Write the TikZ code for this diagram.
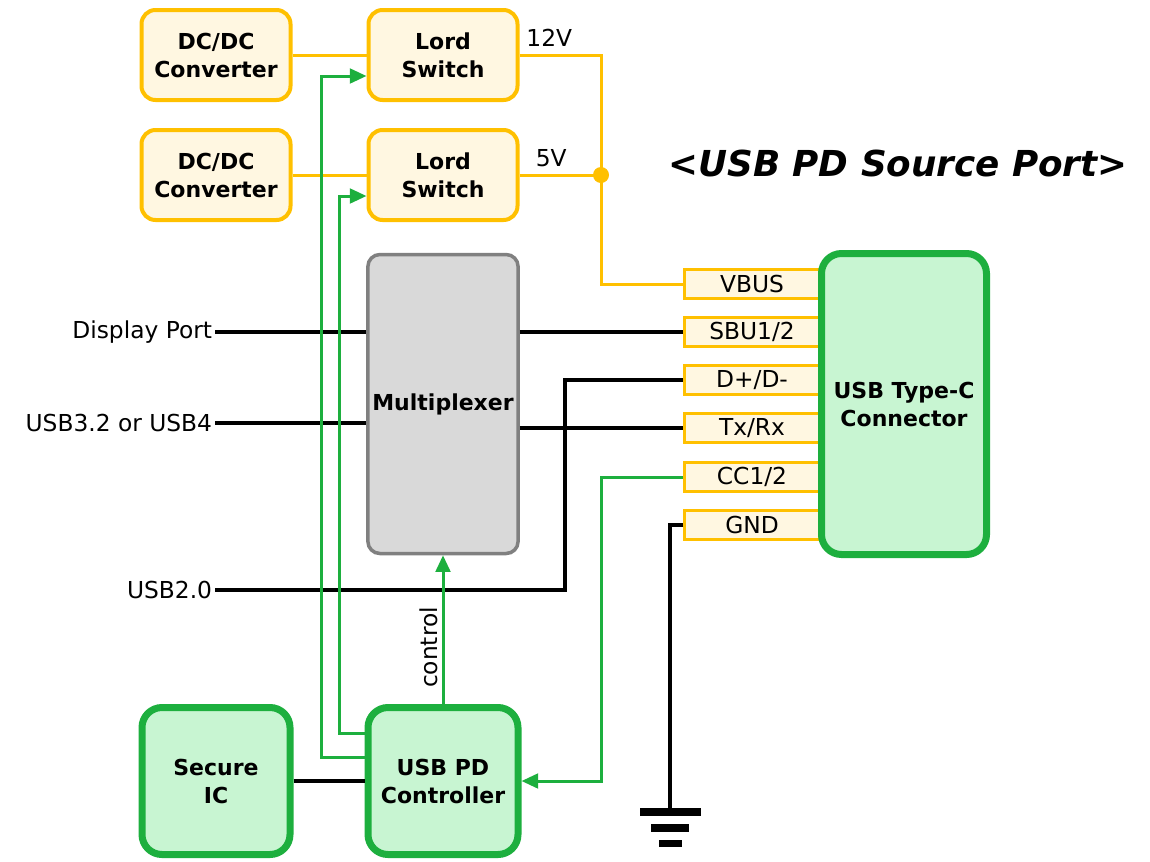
\documentclass[tikz,border=0pt]{standalone}
\usepackage{fontspec}
\setmainfont{DejaVu Sans}
\usepackage{xcolor}
\usepackage{tikz}
\usetikzlibrary{positioning,arrows.meta}

\definecolor{pwrline}{HTML}{FFC000}
\definecolor{pwrfill}{HTML}{FFF7E1}
\definecolor{pdgreen}{HTML}{1DAF3E}
\definecolor{pdfill}{HTML}{C8F5D2}
\definecolor{muxfill}{HTML}{D9D9D9}
\definecolor{muxline}{HTML}{808080}

\newdimen\unitpx
\unitpx=0.75pt
\newcommand\boxfont{\fontsize{16.5}{21}\selectfont\bfseries}

\tikzset{
  pwrbox/.style={draw=pwrline, fill=pwrfill, line width=4\unitpx, rounded corners=14\unitpx,
    minimum width=149\unitpx, minimum height=90\unitpx, align=center, font=\boxfont},
  pinbox/.style={draw=pwrline, fill=pwrfill, line width=2.5\unitpx,
    minimum width=135\unitpx, minimum height=29\unitpx, inner sep=0pt},
  pdbox/.style={draw=pdgreen, fill=pdfill, line width=7\unitpx, rounded corners=20\unitpx,
    align=center, font=\boxfont},
  pwrwire/.style={draw=pwrline, line width=3\unitpx},
  sigwire/.style={draw=black, line width=3.5\unitpx},
  ctlwire/.style={draw=pdgreen, line width=3\unitpx, -{Triangle[length=12.5pt,width=11pt]}},
}

\begin{document}
\begin{tikzpicture}[x=0.75pt, y=-0.75pt, font=\fontsize{17.5}{21}\selectfont]
      \useasboundingbox (0,0) rectangle (1150,861);
      % power path
      \node[pwrbox] (dc1) at (216,55) {DC/DC\\Converter};
      \node[pwrbox] (dc2) at (216,175) {DC/DC\\Converter};
      \node[pwrbox] (ls1) at (443,55) {Lord\\Switch};
      \node[pwrbox] (ls2) at (443,175) {Lord\\Switch};
      \draw[pwrwire] (dc1) -- (ls1);
      \draw[pwrwire] (dc2.east) -- (ls2.west);

      \node[draw=muxline, fill=muxfill, line width=3.5\unitpx, rounded corners=12\unitpx,
        minimum width=150\unitpx, minimum height=299\unitpx, font=\boxfont] (mux) at (443,404) {Multiplexer};

      % connector pins
      \node[pinbox] (vbus) at (752,284) {VBUS};
      \node[pinbox] (sbu) at (752,332) {SBU1/2};
      \node[pinbox] (dd) at (752,380) {D+/D-};
      \node[pinbox] (txrx) at (752,428) {Tx/Rx};
      \node[pinbox] (cc) at (752,477) {CC1/2};
      \node[pinbox] (gnd) at (752,525) {GND};
      \node[pdbox, minimum width=165\unitpx, minimum height=301\unitpx] (conn) at (904,404) {USB Type-C\\Connector};

      \node[pdbox, minimum width=148\unitpx, minimum height=147\unitpx] (sic) at (216,781) {Secure\\IC};
      \node[pdbox, minimum width=150\unitpx, minimum height=147\unitpx] (pd) at (443,781) {USB PD\\Controller};

      \node[font=\fontsize{26.8}{30}\selectfont\bfseries\itshape] (title) at (898,163) {<USB PD Source Port>};

      % VBUS
      \coordinate (vj) at (601,175);
      \draw[pwrwire] (ls1.east) -| (vj) |- (vbus.west);
      \draw[pwrwire] (ls2.east) -- (vj);
      \fill[pwrline] (vj) circle (8);
      \node[above right=5pt and 4pt of ls1.east, inner sep=1pt] (v12) {12V};
      \node[above right=5pt and 11pt of ls2.east, inner sep=1pt] (v5) {5V};

      % data lines
      \node[left, inner sep=2pt] (dp) at (215,332) {Display Port};
      \node[left, inner sep=2pt] (usb3) at (215,423) {USB3.2 or USB4};
      \node[left, inner sep=2pt] (usb2) at (215,590) {USB2.0};
      \draw[sigwire] (dp.east) -- (dp.east -| mux.west);
      \draw[sigwire] (usb3.east) -- (usb3.east -| mux.west);
      \draw[sigwire] (sbu.west -| mux.east) -- (sbu.west);
      \draw[sigwire] (txrx.west -| mux.east) -- (txrx.west);
      \coordinate (dbend) at (565,380);
      \draw[sigwire] (usb2.east) -| (dbend) -- (dd.west);
      \draw[sigwire] (sic.east) -- (pd.west);

      % control lines
      \coordinate (sw1) at (321,76);
      \coordinate (sw2) at (339,196);
      \draw[ctlwire] (pd.west |- 0,757) -| (sw1) -- (sw1 -| ls1.west);
      \draw[ctlwire] (pd.west |- 0,733) -| (sw2) -- (sw2 -| ls2.west);
      \draw[ctlwire] (pd.north) -- (mux.south) node[pos=0.38, rotate=90, above, inner sep=3pt] (ctl) {control};
      \coordinate (ccbend) at (601,781);
      \draw[ctlwire] (cc.west) -| (ccbend) -- (pd.east);

      % ground
      \coordinate (gj) at (670,812);
      \draw[sigwire] (gnd.west) -| (gj);
      \fill (640,808) rectangle (701,816);
      \fill (651,824) rectangle (689,832);
      \fill (659,840) rectangle (682,847);
    \end{tikzpicture}
\end{document}
